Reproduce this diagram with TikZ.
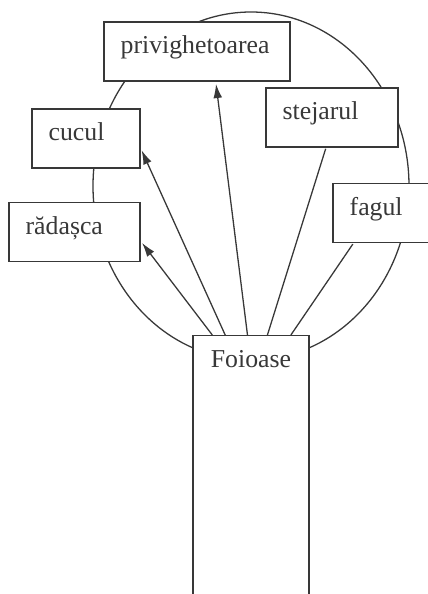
\documentclass[tikz,border=0pt]{standalone}
\usepackage{fontspec}
\setmainfont{Liberation Serif}
\usetikzlibrary{calc}
\usetikzlibrary{arrows.meta}

\tikzset{
	box/.style={draw, fill=white, align=left, inner xsep=0.5cm, inner ysep=0pt,
		minimum height=1.77cm, text height=13pt, text depth=9pt},
	arr/.style={-{Latex[length=12pt,width=7.5pt]}, shorten >=2pt},
	plain/.style={shorten >=1pt}
}

\begin{document}
\begin{tikzpicture}[x=0.03cm, y=-0.03cm, line width=1.1pt, color=black!78,
	font=\fontsize{22}{26}\selectfont]
		\useasboundingbox (0,0) rectangle (428,594);
		\clip (0,0) rectangle (428,594);
		
		% draw the crown
		\draw (251,186) ellipse [x radius=4.74cm, y radius=5.22cm];
		
		% draw the trunk
		\node[draw, fill=white, anchor=north, minimum width=3.48cm, inner ysep=0.3cm,
			text height=0.66cm, text depth=6.9cm] (foioase) at (251,335) {Foioase};
		
		% draw the boxes
		\node[box, text width=4.58cm] (privighetoarea) at (197,51.5) {privighetoarea};
		\node[box, text width=2.24cm] (cucul) at (86,138.5) {cucul};
		\node[box, text width=2.93cm] (radasca) at (74.5,232) {rădașca};
		\node[box, text width=2.96cm] (stejarul) at (332,117.5) {stejarul};
		\node[box, text width=2.21cm] (fagul) at (386.5,213) {fagul};
		
		% draw arrows
		\draw[arr] ($(foioase.north west)!0.17!(foioase.north east)$) -- ($(radasca.north east)!0.65!(radasca.south east)$);
		\draw[arr] ($(foioase.north west)!0.28!(foioase.north east)$) -- ($(cucul.north east)!0.66!(cucul.south east)$);
		\draw[arr] ($(foioase.north west)!0.47!(foioase.north east)$) -- ($(privighetoarea.south west)!0.6!(privighetoarea.south east)$);
		
		% draw lines
		\draw[plain] ($(foioase.north west)!0.64!(foioase.north east)$) -- ($(stejarul.south west)!0.455!(stejarul.south east)$);
		\draw[plain] ($(foioase.north west)!0.84!(foioase.north east)$) -- ($(fagul.south west)!0.195!(fagul.south east)$);
		
\end{tikzpicture}
\end{document}
